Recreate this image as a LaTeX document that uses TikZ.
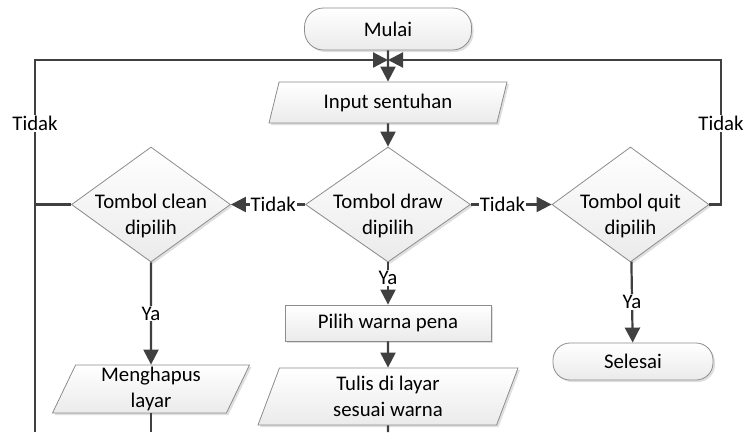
\documentclass[tikz,border=0pt]{standalone}
\usepackage{fontspec}
\setmainfont{Carlito}
\usepackage{tikz}
\usetikzlibrary{shapes.geometric}
\usetikzlibrary{arrows.meta}
\usetikzlibrary{shadows}
\definecolor{garis}{HTML}{404040}
\definecolor{tepi}{HTML}{8C8C8C}
\newcommand\dtx[1]{\raisebox{-17pt}[0pt][0pt]{\begin{tabular}{@{}c@{}}#1\end{tabular}}}

\begin{document}
\begin{tikzpicture}[>={Triangle[length=15pt,width=15pt]},x=1pt,y=-1pt,
	every node/.style={font=\fontsize{20.8}{25.5}\selectfont}]
\useasboundingbox (0,0) rectangle (745,432);

\tikzstyle{shp}=[
	draw=tepi,
	line width=0.8pt,
	top color=white,
	bottom color=black!8,
	drop shadow={shadow xshift=2pt,shadow yshift=-2pt,opacity=0.25}
]
\tikzstyle{terminator}=[shp, rectangle, rounded corners=19pt,
	minimum width=167pt, minimum height=42pt]
\tikzstyle{process}=[shp, rectangle, minimum width=206pt, minimum height=36pt]
\tikzstyle{data}=[shp, trapezium, trapezium left angle=63, trapezium right angle=117,
	trapezium stretches body, align=center, inner sep=1pt]
\tikzstyle{decision}=[shp, diamond, aspect=1.4, inner sep=0pt,
	minimum width=160pt, minimum height=115pt]
\tikzstyle{conn}=[draw=garis, line width=2.2pt]
\tikzstyle{lbl}=[fill=white, inner sep=1pt]

%% ALUR TENGAH
\node (mulai) [terminator] at (388,29) {Mulai};
\node (input) [data, minimum width=238pt, minimum height=41pt] at (388,102.5) {Input sentuhan};
\node (cekdraw) [decision, minimum width=165pt] at (388,204.5) {\dtx{Tombol draw\\dipilih}};
\node (pilih) [process] at (388,323) {Pilih warna pena};
\node (tulis) [data, minimum width=260pt, minimum height=57pt] at (388,396.5) {Tulis di layar\\sesuai warna};

%% KIRI
\node (cekclean) [decision, minimum width=159pt] at (151,204.5) {\dtx{Tombol clean\\dipilih}};
\node (hapus) [data, minimum width=197pt, minimum height=48pt] at (151,389) {Menghapus\\layar};

%% KANAN
\node (cekquit) [decision, minimum width=157pt] at (630.5,204.5) {\dtx{Tombol quit\\dipilih}};
\node (selesai) [terminator, rounded corners=17pt, minimum width=160pt, minimum height=37pt] at (633,361.5) {Selesai};

\coordinate (jn) at (388,60);
\coordinate (kiri) at (35,60);
\coordinate (kanan) at (721,60);
\coordinate (kiribawah) at (35,432);
\coordinate (hapusbawah) at (151,432);
\coordinate (tulisbawah) at (388,432);

\draw[conn,->] (mulai) -- (input);
\draw[conn,->] (input) -- (cekdraw);
\draw[conn,->] (cekdraw) -- node[lbl,pos=0.43]{Tidak} (cekclean);
\draw[conn,->] (cekdraw) -- node[lbl,pos=0.39]{Tidak} (cekquit);
\draw[conn,->] (cekclean.west) -| node[lbl,pos=0.78]{Tidak} (kiri) -- (jn);
\draw[conn,->] (cekquit.east) -| node[lbl,pos=0.78]{Tidak} (kanan) -- (jn);
\draw[conn] (kiribawah) |- (cekclean.west);

\draw[conn,->] (cekdraw) -- node[lbl,pos=0.37]{Ya} (pilih);
\draw[conn,->] (pilih) -- (tulis);
\draw[conn,->] (cekclean) -- node[lbl,pos=0.5]{Ya} (hapus);
\draw[conn,->] (cekquit) -- node[lbl,pos=0.5]{Ya} (selesai);
\draw[conn] (hapus) -- (hapusbawah);
\draw[conn] (tulis) -- (tulisbawah);

\end{tikzpicture}
\end{document}
